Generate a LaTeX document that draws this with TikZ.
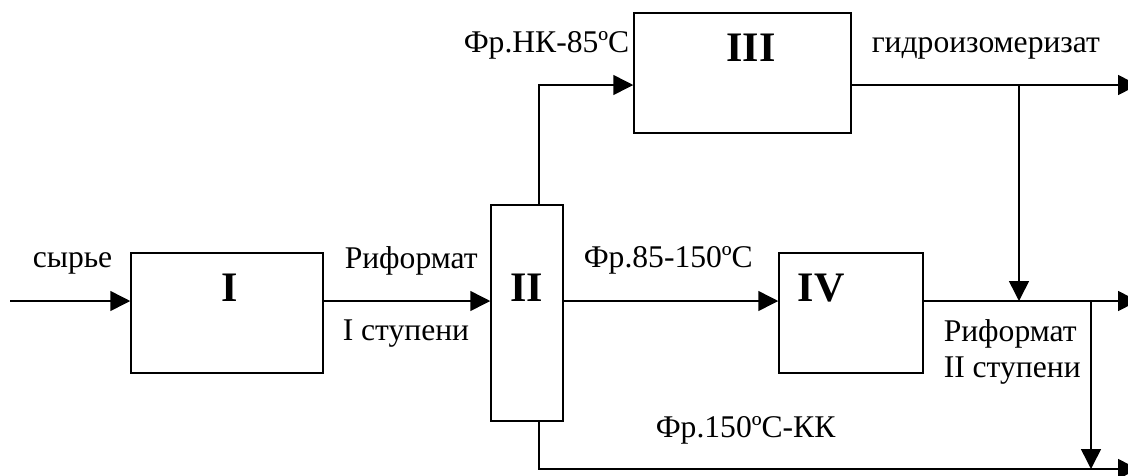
\documentclass[tikz,border=0pt]{standalone}
\usepackage{fontspec}
\setmainfont{Liberation Serif}
\usetikzlibrary{arrows.meta, positioning}
\tikzset{
  % plain black scheme, thick lines and solid triangle tips
  every picture/.append style = {line width=1.5pt, >={Triangle[length=20pt, width=20pt]}},
  flow/.style   = {->},
  unit/.style   = {draw, line width=1.5pt, inner sep=0pt},
  lbl/.style    = {font=\fontsize{31.6}{36}\selectfont, inner sep=0pt, anchor=base west},
  numlbl/.style = {font=\fontsize{42}{46}\selectfont\bfseries, inner sep=0pt},
}

\begin{document}
\begin{tikzpicture}[x=1pt,y=-1pt]
  \useasboundingbox (0,0) rectangle (1128,475);
  % units
  \node[unit, minimum width=192pt, minimum height=120pt] (boxI)   at (227,313)   {};
  \node[unit, minimum width=72pt,  minimum height=216pt] (boxII)  at (527,313)   {};
  \node[unit, minimum width=217pt, minimum height=120pt] (boxIII) at (742.5,73)  {};
  \node[unit, minimum width=144pt, minimum height=120pt] (boxIV)  at (851,313)   {};
  \node[numlbl] (labI)   at (230,288) {I};
  \node[numlbl] (labII)  at (527,288) {II};
  \node[numlbl] (labIII) at (751,48)  {III};
  \node[numlbl] (labIV)  at (821,288) {IV};
  % streams
  \coordinate (feed)   at (10,301);
  \coordinate (riser)  at (539,85);
  \coordinate (outIII) at (1138,85);
  \coordinate (outIV)  at (1138,301);
  \coordinate (outbot) at (1138,469);
  \coordinate (tapIII) at (1019,85);
  \coordinate (tapIV)  at (1091,301);
  \draw[flow] (feed) -- (feed -| boxI.west);
  \draw[flow] (feed -| boxI.east) -- (feed -| boxII.west);
  \draw[flow] (feed -| boxII.east) -- (feed -| boxIV.west);
  \draw[flow] (feed -| boxIV.east) -- (outIV);
  \draw[flow] (boxII.north -| riser) |- (riser -| boxIII.west);
  \draw[flow] (riser -| boxIII.east) -- (outIII);
  \draw[flow] (tapIII) -- (tapIII |- outIV);
  \draw[flow] (tapIV) -- (tapIV |- outbot);
  \draw[flow] (boxII.south -| riser) |- (outbot);
  % stream names
  \node[lbl] (raw)    at (32,267)  {сырье};
  \node[lbl] (ref1a)  at (344,268) {Риформат};
  \node[lbl] (ref1b)  at (342,340) {I ступени};
  \node[lbl] (light)  at (463,52)  {Фр.НК-85ºС};
  \node[lbl] (isom)   at (871,52)  {гидроизомеризат};
  \node[lbl] (middle) at (583,267) {Фр.85-150ºС};
  \node[lbl] (ref2a)  at (943,341) {Риформат};
  \node[lbl] (ref2b)  at (943,377) {II ступени};
  \node[lbl] (heavy)  at (655,437) {Фр.150ºС-КК};
\end{tikzpicture}
\end{document}
